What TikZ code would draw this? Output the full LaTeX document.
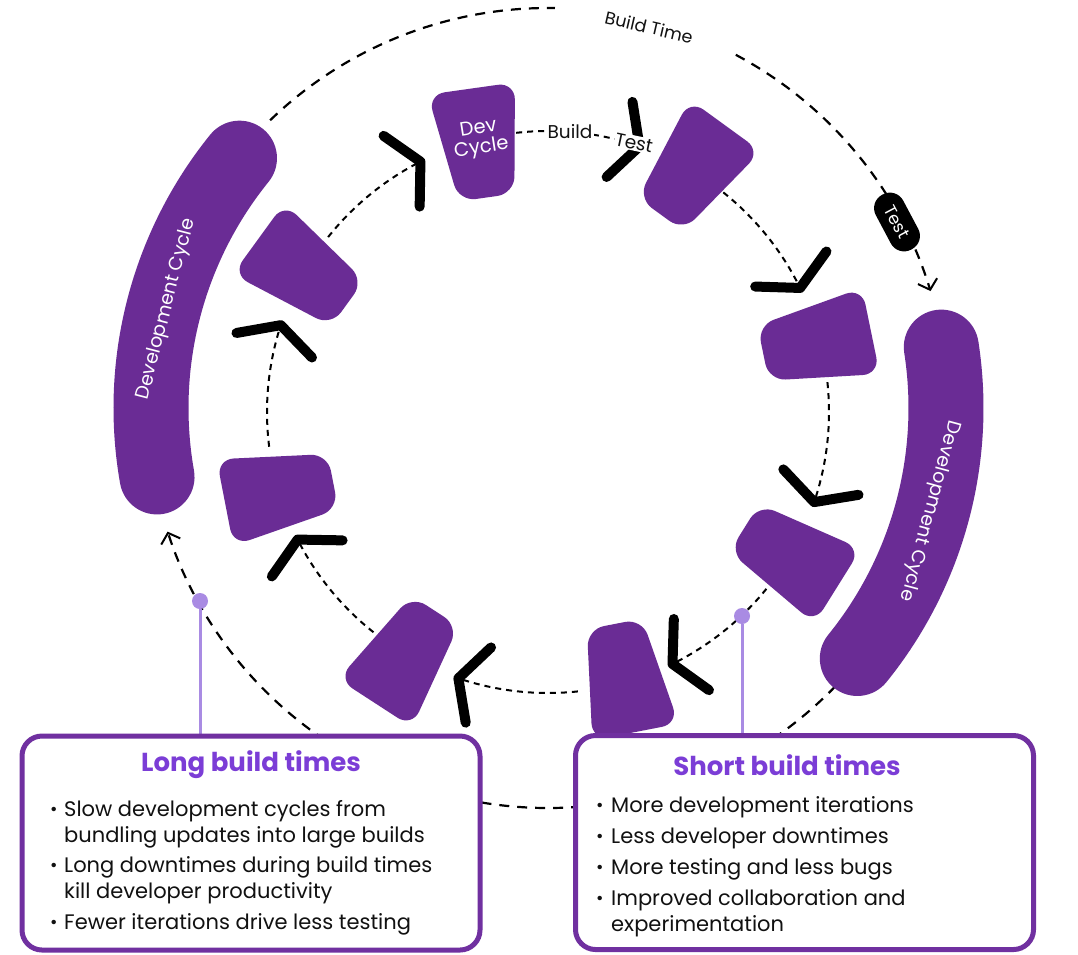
\documentclass[tikz,border=0pt]{standalone}
\usepackage{fontspec}
\setmainfont{Poppins}
\usetikzlibrary{arrows.meta,calc}
\definecolor{cupc}{HTML}{6A2C95}
\definecolor{boxc}{HTML}{7030A0}
\definecolor{titc}{HTML}{7B3DD6}
\definecolor{pinc}{HTML}{A98BE3}
\definecolor{txtc}{HTML}{111111}
\newcommand\myfs[1]{\fontsize{#1}{#1}\selectfont}
\tikzset{
  cup/.pic={\fill[cupc, rounded corners=17pt] (-44,55) -- (44,55) -- (28,-55) -- (-28,-55) -- cycle;},
  chev/.style={line width=10pt, line cap=round, line join=round, black},
  innerdash/.style={black, line width=2pt, dash pattern=on 6pt off 5pt},
  outerdash/.style={black, line width=2.2pt, dash pattern=on 10pt off 8pt},
  bigarc/.style={cupc, line width=75pt, line cap=round},
  barb/.style={-{Straight Barb[length=9pt,width=20pt,line width=2pt]}},
  arctext/.style={font=\myfs{19}, text=white, inner sep=0pt},
  infobox/.style={draw=boxc, line width=5pt, fill=white, rounded corners=20pt, minimum width=458pt, minimum height=214pt, inner sep=0pt},
  boxtitle/.style={font=\bfseries\myfs{26}, text=titc, inner sep=0pt},
  bline/.style={font=\myfs{21}, text=txtc, anchor=base west, inner sep=0pt},
  bdot/.style={font=\myfs{18}, text=txtc, anchor=base west, inner sep=0pt},
  pinline/.style={pinc, line width=3pt},
  pindot/.style={circle, fill=pinc, minimum size=16pt, inner sep=0pt},
  lbl/.style={font=\myfs{18.5}, text=txtc, inner sep=2pt},
}
\begin{document}
\begin{tikzpicture}[x=1pt,y=1pt]
\useasboundingbox[fill=white] (0,0) rectangle (1078,-954);
\coordinate (O) at (548,-408);
\coordinate (I) at (548,-412);

% outer dashed circle
\draw[outerdash] (O) ++(134:400) arc[start angle=134, end angle=89, radius=400];
\draw[outerdash, barb] (O) ++(62:400) arc[start angle=62, end angle=17, radius=400];
\draw[outerdash, barb] (O) ++(-44:400) arc[start angle=-44, end angle=-162, radius=400];

% big development arcs
\draw[bigarc] (O) ++(141:397) arc[start angle=141, end angle=190, radius=397];
\draw[bigarc] (O) ++(8.8:398) arc[start angle=8.8, end angle=-39, radius=398];
\node[arctext, rotate=75.5] (ldev) at ($(O)+(165.5:394)$) {Development Cycle};
\node[arctext, rotate=-105.1] (rdev) at ($(O)+(-15.1:395)$) {Development Cycle};

% inner dashed arcs
\foreach \s/\e in {141.5/117, 96.5/71, 51.4/26.2, 6.1/-18.7, -39/-63.7, -83.9/-108.6, -128.4/-153, 187.1/162}{
  \draw[innerdash] (I) ++(\s:281) arc[start angle=\s, end angle=\e, radius=281];
}

% cups
\pic[rotate=54] at (303,-271) {cup};
\pic[rotate=8] at (479,-143) {cup};
\pic[rotate=-36] at (693,-170) {cup};
\pic[rotate=-78.4] at (817,-342) {cup};
\pic[rotate=-122] at (791,-557) {cup};
\pic[rotate=-169] at (625,-678) {cup};
\pic[rotate=-213] at (405,-657) {cup};
\pic[rotate=-259] at (279,-492) {cup};

% chevrons
\foreach \a in {117,71,26.2,-18.7,-63.7,-108.6,-153,162}{
  \draw[chev, shift={(I)}, rotate=\a] (320.7,21.1) -- (281,0) -- (241.3,21.1);
}

% labels
\node[font=\myfs{19.5}, text=white, align=center, rotate=9] (dev) at (480,-139) {\fontsize{19.5}{22}\selectfont Dev\\Cycle};
\node[lbl, fill=white] (build) at (570,-132) {Build};
\node[lbl, fill=white, rotate=-12, inner sep=1pt] (test) at (634,-143) {Test};
\node[font=\myfs{17.5}, text=txtc, rotate=-13] (btime) at (649,-27) {Build Time};
\node[fill=black, text=white, font=\myfs{17}, rounded corners=15pt, minimum width=62pt, minimum height=31pt, inner sep=0pt, rotate=-62] (pill) at (897,-222) {Test};

% pins
\coordinate (lpt) at (200,-736);
\coordinate (rpt) at (742,-735);
\node[pindot] (ldot) at (200,-601) {};
\node[pindot] (rdot) at (742,-616) {};
\draw[pinline] (ldot) -- (lpt);
\draw[pinline] (rdot) -- (rpt);

% boxes
\node[infobox] (lbox) at (251,-843) {};
\node[infobox] (rbox) at (804.5,-842.5) {};

\node[boxtitle] (ltitle) at (251,-765) {Long build times};
\node[bdot] (ld1) at (50,-815) {•};
\node[bline] (l1) at (64,-816) {Slow development cycles from};
\node[bline] (l2) at (64,-842) {bundling updates into large builds};
\node[bdot] (ld2) at (50,-871) {•};
\node[bline] (l3) at (64,-872) {Long downtimes during build times};
\node[bline] (l4) at (64,-898) {kill developer productivity};
\node[bdot] (ld3) at (50,-928) {•};
\node[bline] (l5) at (64,-929) {Fewer iterations drive less testing};

\node[boxtitle] (rtitle) at (787,-765) {Short build times};
\node[bdot] (rd1) at (596,-811) {•};
\node[bline] (r1) at (611,-812) {More development iterations};
\node[bdot] (rd2) at (596,-842) {•};
\node[bline] (r2) at (611,-843) {Less developer downtimes};
\node[bdot] (rd3) at (596,-873) {•};
\node[bline] (r3) at (611,-874) {More testing and less bugs};
\node[bdot] (rd4) at (596,-904) {•};
\node[bline] (r4) at (611,-905) {Improved collaboration and};
\node[bline] (r5) at (611,-931) {experimentation};
\end{tikzpicture}
\end{document}
